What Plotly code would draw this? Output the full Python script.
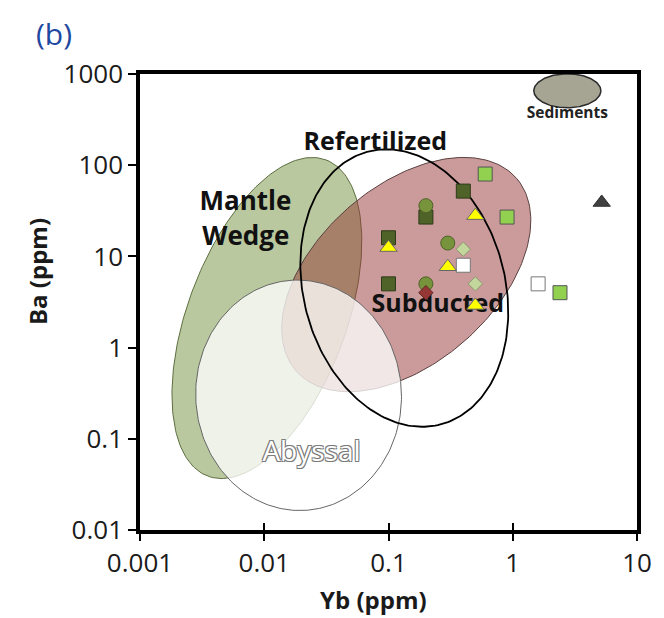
import numpy as np
import plotly.graph_objects as go

# ---------------- data ----------------
x_tickvals = [0.001, 0.01, 0.1, 1, 10]
x_ticktext = ["0.001", "0.01", "0.1", "1", "10"]
y_tickvals = [0.01, 0.1, 1, 10, 100, 1000]
y_ticktext = ["0.01", "0.1", "1", "10", "100", "1000"]

# sample series (Yb ppm, Ba ppm)
lightgreen_sq_yb = [0.6, 0.9, 2.4]
lightgreen_sq_ba = [80, 27, 4]
darkgreen_sq_yb = [0.4, 0.2, 0.1, 0.1]
darkgreen_sq_ba = [52, 27, 16, 5]
olive_circ_yb = [0.2, 0.3, 0.2]
olive_circ_ba = [36, 14, 5]
red_diam_yb = [0.2]
red_diam_ba = [4]
yellow_tri_yb = [0.5, 0.1, 0.3, 0.5]
yellow_tri_ba = [28, 12.5, 7.7, 2.9]
pale_diam_yb = [0.4, 0.5]
pale_diam_ba = [12, 5]
white_sq_yb = [0.4, 1.6]
white_sq_ba = [8, 5]
dark_tri_yb = [5.2]
dark_tri_ba = [39]

# field ellipses: centre (Yb, Ba), semi-axes (in x-decades), rotation (deg)
field_names = ["Mantle Wedge", "Subducted", "Abyssal", "Refertilized", "Sediments"]
field_cx = [0.0105, 0.139, 0.0189, 0.134, 2.75]
field_cy = [2.11, 6.32, 0.30, 4.50, 655]
field_a = [1.354, 1.176, 0.924, 1.132, 0.27]
field_b = [0.638, 0.710, 0.828, 0.810, 0.136]
field_ang = [69.4, 41.0, 93.0, 105.4, 0.0]

ASPECT = 91.4 / 125.0  # px per y-decade / px per x-decade


def ellipse(cx, cy, a, b, ang, n=240):
    t = np.linspace(0, 2 * np.pi, n)
    p = np.radians(ang)
    X = a * np.cos(t) * np.cos(p) - b * np.sin(t) * np.sin(p)
    Y = a * np.cos(t) * np.sin(p) + b * np.sin(t) * np.cos(p)
    return 10 ** (np.log10(cx) + X), 10 ** (np.log10(cy) + Y / ASPECT)


FONT = "Open Sans"
fig = go.Figure()

styles = {
    "Mantle Wedge": dict(fillcolor="#b9c89e", line=dict(color="#5d6e40", width=1)),
    "Subducted": dict(fillcolor="rgba(149,55,53,0.5)", line=dict(color="#5a4040", width=1)),
    "Abyssal": dict(fillcolor="rgba(255,255,255,0.76)", line=dict(color="#666666", width=1)),
    "Refertilized": dict(fillcolor="rgba(0,0,0,0)", line=dict(color="#000000", width=1.8)),
    "Sediments": dict(fillcolor="#a6a593", line=dict(color="#2a2a2a", width=1.5)),
}
for i, name in enumerate(field_names):
    ex, ey = ellipse(field_cx[i], field_cy[i], field_a[i], field_b[i], field_ang[i])
    st = styles[name]
    fig.add_trace(go.Scatter(x=ex, y=ey, mode="lines", fill="toself",
                             fillcolor=st["fillcolor"], line=st["line"],
                             hoverinfo="skip", showlegend=False))

# region labels (as text traces so markers sit on top)
OUTLINE = "-1px -1px 0 #7a7a7a, 1px -1px 0 #7a7a7a, -1px 1px 0 #7a7a7a, 1px 1px 0 #7a7a7a"
labels = [
    ("Refertilized", 0.0783, 172, 25, "#111111", 700, "none"),
    ("Mantle", 0.00705, 38.0, 26, "#111111", 700, "none"),
    ("Wedge", 0.00710, 15.7, 26, "#111111", 700, "none"),
    ("Subducted", 0.249, 2.88, 25, "#111111", 700, "none"),
    ("Sediments", 2.75, 367, 15.5, "#222222", 700, "none"),
    ("Abyssal", 0.024, 0.0687, 28, "#ffffff", 400, OUTLINE),
]
for txt, lx, ly, sz, col, wt, sh in labels:
    fig.add_trace(go.Scatter(x=[lx], y=[ly], mode="text", text=[txt],
                             textposition="middle center",
                             textfont=dict(family=FONT, size=sz, color=col, weight=wt, shadow=sh),
                             hoverinfo="skip", showlegend=False))

def pts(xs, ys, symbol, size, color, lcolor, lw=1):
    fig.add_trace(go.Scatter(x=xs, y=ys, mode="markers",
                             marker=dict(symbol=symbol, size=size, color=color,
                                         line=dict(color=lcolor, width=lw)),
                             showlegend=False))

pts(darkgreen_sq_yb, darkgreen_sq_ba, "square", 14, "#4f6228", "#2e3a18")
pts(olive_circ_yb, olive_circ_ba, "circle", 14, "#77933c", "#4f6228")
pts(red_diam_yb, red_diam_ba, "diamond", 11, "#953735", "#632523")
pts(lightgreen_sq_yb, lightgreen_sq_ba, "square", 14, "#92d050", "#555555")
pts(white_sq_yb, white_sq_ba, "square", 14, "#ffffff", "#777777")
pts(pale_diam_yb, pale_diam_ba, "diamond", 11, "#c3d69b", "#8a9a70")
pts(yellow_tri_yb, yellow_tri_ba, "triangle-up", 15, "#ffff00", "#666666")
pts(dark_tri_yb, dark_tri_ba, "triangle-up", 15, "#404040", "#303030")

# dummy trace for the inside-tick overlay axis
fig.add_trace(go.Scatter(x=[None], y=[None], xaxis="x2", showlegend=False, hoverinfo="skip"))

# page has an 8px body margin, so the figure is drawn 8px smaller and shifted
fig.update_layout(
    width=656, height=610,
    margin=dict(l=132, r=24, t=66, b=88),
    paper_bgcolor="white", plot_bgcolor="white",
    showlegend=False,
    font=dict(family=FONT, color="#1a1a1a"),
    xaxis=dict(type="log", range=[-3, 1], tickmode="array", tickvals=x_tickvals,
               ticktext=x_ticktext, ticks="outside", ticklen=7, tickwidth=2,
               tickcolor="black", showline=True, linecolor="black", linewidth=3.5,
               mirror=True, showgrid=False, zeroline=False,
               tickfont=dict(size=26, color="#1a1a1a")),
    xaxis2=dict(type="log", range=[-3, 1], overlaying="x", anchor="y", side="bottom",
                tickmode="array", tickvals=x_tickvals[1:-1], ticks="inside", ticklen=7,
                tickwidth=2, tickcolor="black", showticklabels=False, showline=False,
                showgrid=False, zeroline=False),
    yaxis=dict(type="log", range=[-2, 3], tickmode="array", tickvals=y_tickvals,
               ticktext=y_ticktext, ticks="outside", ticklen=8, tickwidth=2,
               tickcolor="black", showline=True, linecolor="black", linewidth=3.5,
               mirror=True, showgrid=False, zeroline=False,
               tickfont=dict(size=26, color="#1a1a1a")),
    annotations=[
        dict(text="(b)", xref="paper", yref="paper", x=-0.174, y=1.089,
             xanchor="center", yanchor="middle", showarrow=False,
             font=dict(family=FONT, size=30, color="#1f48a0")),
        dict(text="<b>Yb (ppm)</b>", xref="paper", yref="paper", x=0.47, y=-0.153,
             xanchor="center", yanchor="middle", showarrow=False,
             font=dict(family=FONT, size=24, color="#1a1a1a")),
        dict(text="<b>Ba (ppm)</b>", xref="paper", yref="paper", x=-0.205, y=0.566,
             xanchor="center", yanchor="middle", showarrow=False, textangle=-90,
             font=dict(family=FONT, size=24, color="#1a1a1a")),
    ],
)

fig.write_html("out.html")
